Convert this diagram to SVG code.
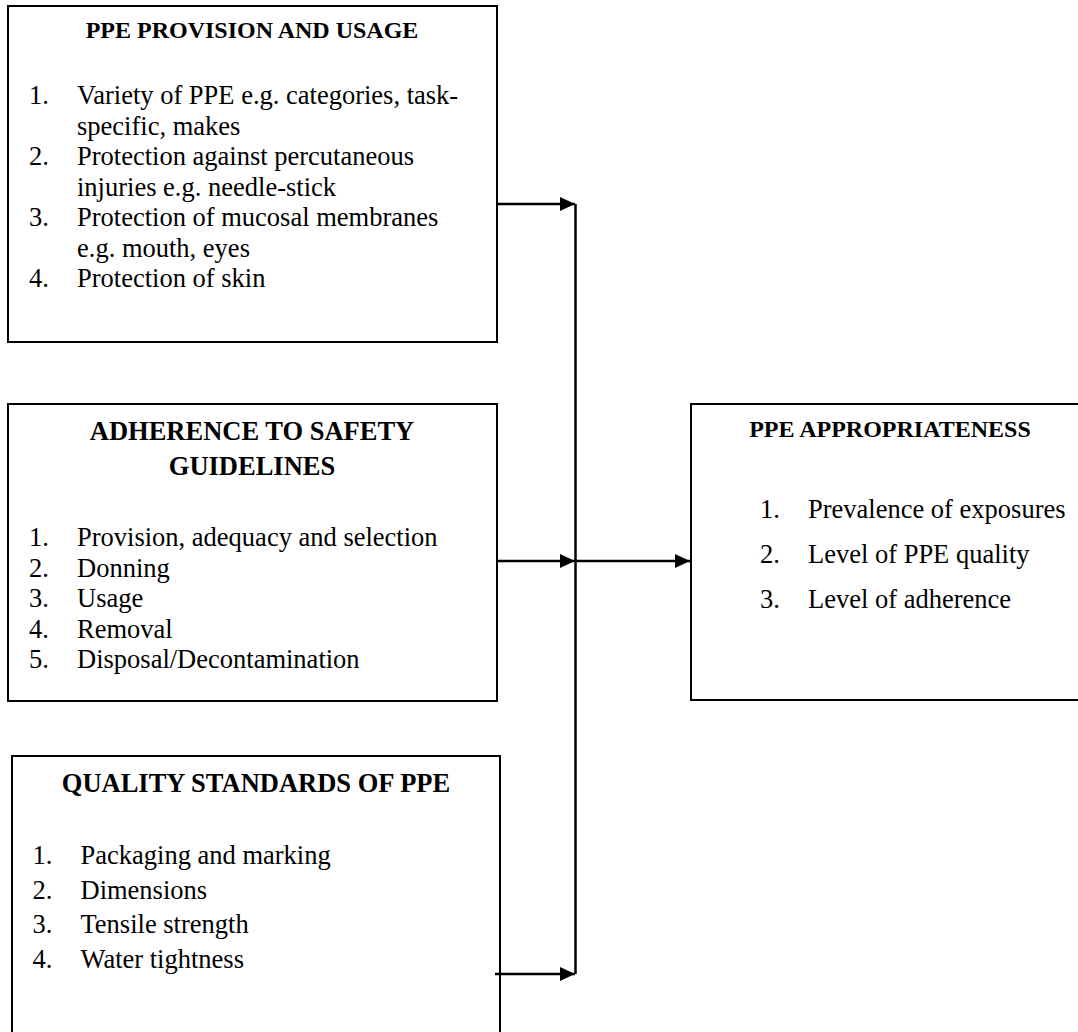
<svg xmlns="http://www.w3.org/2000/svg" width="1078" height="1032" viewBox="0 0 1078 1032">
  <style>
    .box { fill: #ffffff; stroke: #000000; stroke-width: 2; }
    .title { font-family: "Liberation Serif", "Times New Roman", serif; font-weight: bold; fill: #000; text-anchor: middle; }
    .body { font-family: "Liberation Serif", "Times New Roman", serif; font-size: 26.5px; fill: #000; }
    .conn { stroke: #000; stroke-width: 2.5; fill: none; }
  </style>
  <defs>
    <marker id="arrow" markerUnits="userSpaceOnUse" markerWidth="16" markerHeight="16" refX="15" refY="7" orient="auto">
      <path d="M0,0 L15,7 L0,14 Z" fill="#000"/>
    </marker>
  </defs>
  <rect width="1078" height="1032" fill="#ffffff"/>

  <g id="node-provision">
    <rect class="box" x="8" y="6" width="489" height="336"/>
    <text class="title" x="252" y="38" style="font-size:24px">PPE PROVISION AND USAGE</text>
    <text class="body" x="29" y="104">1.</text>
    <text class="body" x="77" y="104">Variety of PPE e.g. categories, task-</text>
    <text class="body" x="77" y="134.5">specific, makes</text>
    <text class="body" x="29" y="165">2.</text>
    <text class="body" x="77" y="165">Protection against percutaneous</text>
    <text class="body" x="77" y="195.5">injuries e.g. needle-stick</text>
    <text class="body" x="29" y="226">3.</text>
    <text class="body" x="77" y="226">Protection of mucosal membranes</text>
    <text class="body" x="77" y="256.5">e.g. mouth, eyes</text>
    <text class="body" x="29" y="287">4.</text>
    <text class="body" x="77" y="287">Protection of skin</text>
  </g>

  <g id="node-adherence">
    <rect class="box" x="8" y="404" width="489" height="297"/>
    <text class="title" x="252" y="440" style="font-size:26.5px">ADHERENCE TO SAFETY</text>
    <text class="title" x="252" y="475" style="font-size:26.5px">GUIDELINES</text>
    <text class="body" x="29" y="546">1.</text>
    <text class="body" x="77" y="546">Provision, adequacy and selection</text>
    <text class="body" x="29" y="576.5">2.</text>
    <text class="body" x="77" y="576.5">Donning</text>
    <text class="body" x="29" y="607">3.</text>
    <text class="body" x="77" y="607">Usage</text>
    <text class="body" x="29" y="637.5">4.</text>
    <text class="body" x="77" y="637.5">Removal</text>
    <text class="body" x="29" y="668">5.</text>
    <text class="body" x="77" y="668">Disposal/Decontamination</text>
  </g>

  <g id="node-quality">
    <rect class="box" x="12" y="756" width="488" height="290"/>
    <text class="title" x="256" y="791.5" style="font-size:26.5px">QUALITY STANDARDS OF PPE</text>
    <text class="body" x="32.5" y="864">1.</text>
    <text class="body" x="80.5" y="864">Packaging and marking</text>
    <text class="body" x="32.5" y="898.5">2.</text>
    <text class="body" x="80.5" y="898.5">Dimensions</text>
    <text class="body" x="32.5" y="933">3.</text>
    <text class="body" x="80.5" y="933">Tensile strength</text>
    <text class="body" x="32.5" y="968">4.</text>
    <text class="body" x="80.5" y="968">Water tightness</text>
  </g>

  <g id="node-appropriateness">
    <rect class="box" x="691" y="404" width="400" height="296"/>
    <text class="title" x="890" y="436.5" style="font-size:24px">PPE APPROPRIATENESS</text>
    <text class="body" x="760" y="517.5">1.</text>
    <text class="body" x="808" y="517.5">Prevalence of exposures</text>
    <text class="body" x="760" y="562.5">2.</text>
    <text class="body" x="808" y="562.5">Level of PPE quality</text>
    <text class="body" x="760" y="608">3.</text>
    <text class="body" x="808" y="608">Level of adherence</text>
  </g>

  <g id="connectors">
    <line class="conn" x1="575.5" y1="204" x2="575.5" y2="974"/>
    <line class="conn" x1="497" y1="204" x2="575" y2="204" marker-end="url(#arrow)"/>
    <line class="conn" x1="497" y1="561" x2="575" y2="561" marker-end="url(#arrow)"/>
    <line class="conn" x1="495" y1="974" x2="575" y2="974" marker-end="url(#arrow)"/>
    <line class="conn" x1="575.5" y1="561" x2="690" y2="561" marker-end="url(#arrow)"/>
  </g>
</svg>
